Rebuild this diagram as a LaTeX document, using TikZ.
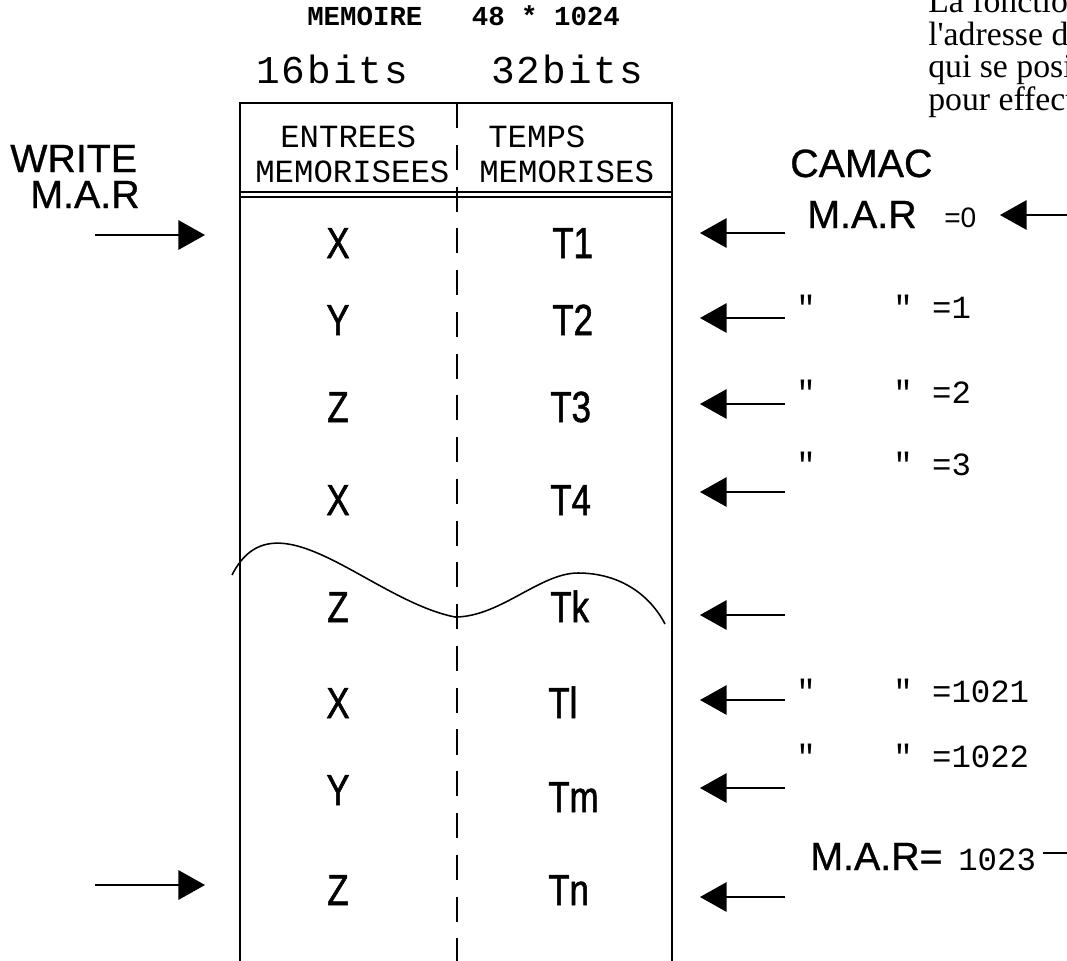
\documentclass[tikz,border=0pt]{standalone}
\usepackage{fontspec}
\setmainfont{Liberation Serif}
\setsansfont{Liberation Sans}
\setmonofont{Liberation Mono}
\newfontfamily\prosefont[Ligatures=TeXOff]{Liberation Serif}
\newfontfamily\narrowsans[FakeStretch=0.8,FakeBold=1.2]{Liberation Sans}
\newfontfamily\heavysans[FakeBold=0.8]{Liberation Sans}
\newfontfamily\widemono[LetterSpace=5]{Liberation Mono}
\usetikzlibrary{arrows.meta,positioning}

\begin{document}
\begin{tikzpicture}[x=0.025cm,y=-0.025cm]

\useasboundingbox (0,0) rectangle (1067,961);
\clip (0,0) rectangle (1067,961);

% set styles here
\tikzstyle{every node}=[inner sep=0pt];
\tikzstyle{cell}=[font=\narrowsans\fontsize{31}{31}\selectfont,anchor=base];
\tikzstyle{tcell}=[cell,anchor=base west];
\tikzstyle{lbl}=[font=\heavysans\fontsize{28}{28}\selectfont,anchor=base west];
\tikzstyle{mono}=[font=\ttfamily\fontsize{23}{23}\selectfont,anchor=base west];
\tikzstyle{wide}=[font=\widemono\fontsize{28}{28}\selectfont,anchor=base west];
\tikzstyle{prose}=[font=\prosefont\fontsize{24}{24}\selectfont,anchor=base west];
\tikzstyle{ptr}=[-{Triangle[length=19pt,width=21pt]},line width=1.3pt];

% text running on from the page
\node (p1) at (928,12) [prose] {La fonction};
\node (p2) at (928,45) [prose] {l'adresse de};
\node (p3) at (928,77) [prose] {qui se positionne};
\node (p4) at (928,110) [prose] {pour effectuer};

% memory table
\node (titre) at (307,25) [anchor=base west,
  font=\ttfamily\bfseries\fontsize{19.5}{19.5}\selectfont] {MEMOIRE\ \ \ 48 * 1024};
\node (b16) at (256,83) [wide] {16bits};
\node (b32) at (491,83) [wide] {32bits};

\draw[line width=1.4pt] (240,990) -- (240,103) -- (672,103) -- (672,990);
\draw[line width=1pt] (240,192) -- (672,192) (240,197) -- (672,197);
\draw[line width=1.3pt,dash pattern=on 17.8pt off 11.9pt] (457,103) -- (457,990);

\node (entrees) at (280,147) [mono] {ENTREES};
\node (memo1) at (255,182) [mono] {MEMORISEES};
\node (temps) at (488,147) [mono] {TEMPS};
\node (memo2) at (479,182) [mono] {MEMORISES};

\node (e1) at (338,258) [cell] {X};  \node (t1) at (552,258) [tcell] {T1};
\node (e2) at (338,335) [cell] {Y};  \node (t2) at (552,335) [tcell] {T2};
\node (e3) at (338,422) [cell] {Z};  \node (t3) at (550,422) [tcell] {T3};
\node (e4) at (338,515) [cell] {X};  \node (t4) at (550,515) [tcell] {T4};
\node (ek) at (338,622) [cell] {Z};  \node (tk) at (550,622) [tcell] {Tk};
\node (el) at (338,718) [cell] {X};  \node (tl) at (548,718) [tcell] {Tl};
\node (em) at (338,805) [cell] {Y};  \node (tm) at (548,812) [tcell] {Tm};
\node (en) at (338,905) [cell] {Z};  \node (tn) at (548,905) [tcell] {Tn};

% break in the table
\draw[line width=1.1pt] (232,575) .. controls (275,490) and (370,600) .. (455,617)
  .. controls (500,617) and (540,573) .. (578,573)
  .. controls (620,573) and (650,595) .. (665,624);

% write side
\node (write) at (10,172) [lbl] {WRITE};
\node (marw) at (30,208) [lbl] {M.A.R};
\coordinate (w0) at (95,235);  \coordinate (w0t) at (205,235);
\coordinate (w1) at (95,885);  \coordinate (w1t) at (205,885);
\draw[ptr] (w0) -- (w0t);
\draw[ptr] (w1) -- (w1t);

% camac side
\node (camac) at (790,177) [lbl] {CAMAC};
\node (mar0) at (807,228) [lbl] {M.A.R};
\node (eq0) at (944,227) [anchor=base west,font=\sffamily\fontsize{20}{20}\selectfont] {=0};
\node (d1) at (796,318) [mono] {"\ \ \ \ "\ =1};
\node (d2) at (796,403) [mono] {"\ \ \ \ "\ =2};
\node (d3) at (796,475) [mono] {"\ \ \ \ "\ =3};
\node (d1021) at (796,702) [mono] {"\ \ \ \ "\ =1021};
\node (d1022) at (796,767) [mono] {"\ \ \ \ "\ =1022};
\node (mar3) at (810,870) [lbl] {M.A.R=};
\node (n1023) at (958,870) [mono] {1023};

\coordinate (in0) at (1090,215);  \coordinate (in0t) at (1000,215);
\draw[ptr] (in0) -- (in0t);
\coordinate (in3) at (1043,853);  \coordinate (in3e) at (1090,853);
\draw[line width=1.3pt] (in3) -- (in3e);

\foreach \i/\y in {1/233,2/318,3/404,4/492,5/615,6/700,7/788,8/897}{
  \coordinate (c\i) at (785,\y);
  \coordinate (r\i) at (700,\y);
  \draw[ptr] (c\i) -- (r\i);
}

\end{tikzpicture}
\end{document}
